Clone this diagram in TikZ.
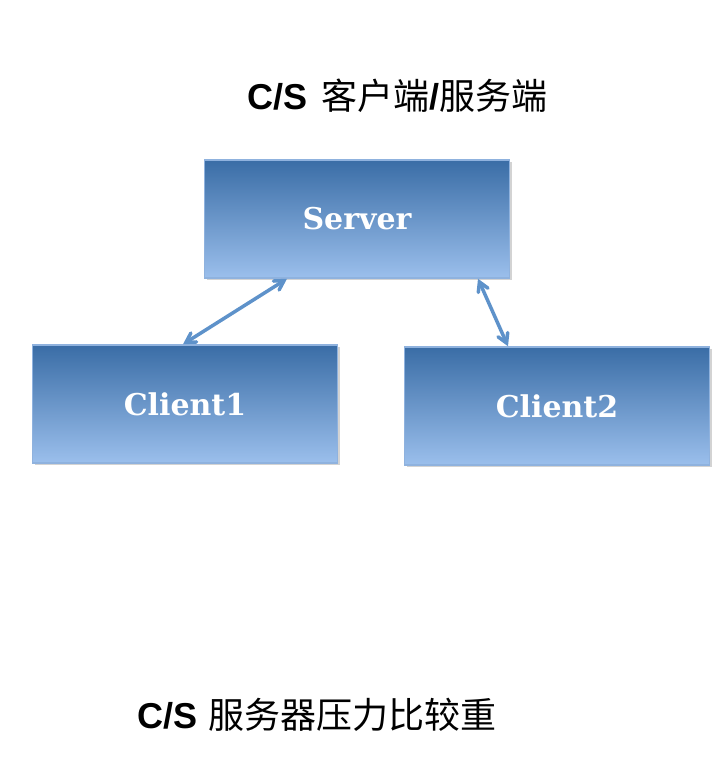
\documentclass[tikz,border=0pt]{standalone}
\usepackage{fontspec}
\setmainfont{DejaVu Serif}
\newfontfamily\cjk{Noto Sans CJK SC}
\newfontfamily\headsans{Liberation Sans}
\usepackage{tikz}
\usetikzlibrary{arrows,positioning,shadows}
\definecolor{boxtop}{HTML}{3A6DA6}
\definecolor{boxbottom}{HTML}{9BBFEC}
\definecolor{boxedge}{HTML}{8FB2DE}
\definecolor{linkblue}{HTML}{5E92CA}
\tikzset{
    boxnode/.style={rectangle, draw=boxedge, line width=1.5pt, top color=boxtop, bottom color=boxbottom, minimum width=305pt, minimum height=118pt, text=white, font=\fontsize{30}{34}\selectfont\bfseries, drop shadow={shadow xshift=2pt, shadow yshift=-2pt, opacity=0.35}},
    linkarrow/.style={<->, >=angle 60, draw=linkblue, line width=3.5pt},
    caption/.style={anchor=west, inner sep=0pt, font=\fontsize{36}{40}\selectfont}
}

\begin{document}
\begin{tikzpicture}[x=1pt, y=-1pt]
\useasboundingbox (0,0) rectangle (722,760);
\node[caption] (title) at (247,96) {{\headsans\bfseries C/S}\hspace{0.4em}{\cjk 客户端}{\headsans\bfseries /}{\cjk 服务端}};
\node[boxnode] (server) at (357,219) {Server};
\node[boxnode] (client1) at (185,404) {Client1};
\node[boxnode] (client2) at (557,406) {Client2};
\node[caption] (note) at (137,715) {{\headsans\bfseries C/S} {\cjk 服务器压力比较重}};

\draw[linkarrow] ([xshift=-2pt]client1.north) -- ([xshift=-70pt]server.south);
\draw[linkarrow] ([xshift=121pt]server.south) -- ([xshift=-49pt]client2.north);
\end{tikzpicture}
\end{document}
